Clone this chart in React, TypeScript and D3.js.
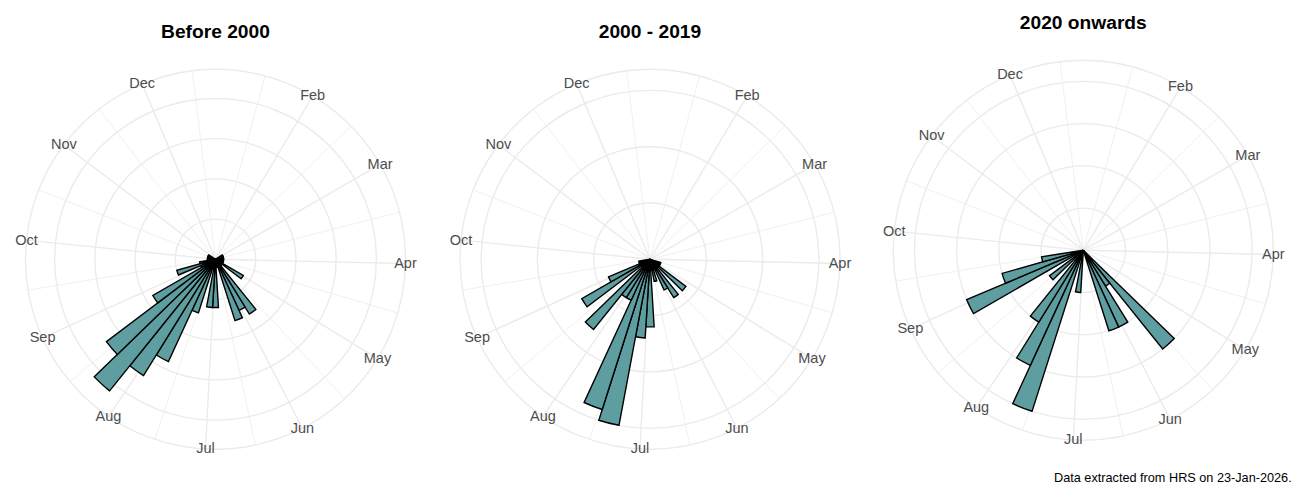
import React from "react";
import * as d3 from "d3";

// ---------- data ----------
const monthLabels = ["Jan", "Feb", "Mar", "Apr", "May", "Jun", "Jul", "Aug", "Sep", "Oct", "Nov", "Dec"];
// day of year (0 = 1 Jan, leap-year calendar) on which each month starts; last entry = next 1 Jan
const monthStartDay = [0, 31, 60, 91, 121, 152, 182, 213, 244, 274, 305, 335, 366];

const weeks = [
  1, 2, 3, 4, 5, 6, 7, 8, 9, 10, 11, 12, 13, 14, 15, 16, 17, 18, 19, 20, 21, 22, 23, 24, 25, 26,
  27, 28, 29, 30, 31, 32, 33, 34, 35, 36, 37, 38, 39, 40, 41, 42, 43, 44, 45, 46, 47, 48, 49, 50, 51,
];

const countsBefore2000 = [
  0, 0, 0, 0, 0, 0, 0, 0, 1, 1, 1, 1, 1, 1, 1, 1, 1, 4, 1, 1, 8, 7, 8, 1, 1, 6,
  6, 1, 7, 14, 17, 21, 17, 9, 2, 5, 2, 1, 1, 1, 1, 1, 1, 0, 0, 0, 0, 0, 0, 0, 0,
];
const counts2000to2019 = [
  0, 0, 0, 0, 0, 0, 0, 0, 0, 0, 0, 0, 0, 0, 0, 1, 1, 1, 4, 1, 4, 3, 1, 2, 1, 6,
  7, 15, 14, 4, 4, 8, 1, 7, 4, 1, 1, 0, 0, 0, 0, 0, 0, 0, 0, 0, 0, 0, 0, 0, 0,
];
const counts2020on = [
  0, 0, 0, 0, 0, 0, 0, 0, 0, 0, 0, 0, 0, 0, 0, 0, 0, 0, 0, 3, 1, 2, 2, 0, 0, 0,
  1, 0, 4, 3, 2, 0, 1, 0, 3, 2, 1, 0, 0, 0, 0, 0, 0, 0, 0, 0, 0, 0, 0, 0, 0,
];

const panelTitles = ["Before 2000", "2000 - 2019", "2020 onwards"];
const panelCounts = [countsBefore2000, counts2000to2019, counts2020on];
const radialTickCounts = [4, 3, 4];

const footnote = "Data extracted from HRS on 23-Jan-2026.";

// ---------- layout ----------
const W = 1300;
const H = 500;
const R_OUTER = 190; // radius of outer circle (0.45 of panel)
const panelCX = [215.5, 650, 1083.3];
const panelCY = [259.3, 259.3, 250.3];
const titleBaseline = [38.3, 38.3, 29.3];
const LABEL_DY = -0.6;
const FONT = "'Liberation Sans', Arial, Helvetica, sans-serif";

// theta domain in days (week bins of 7 days starting at FIRST_BIN_START)
const FIRST_BIN_START = 0.5;
const BIN_DAYS = 7;
const thetaDomain: [number, number] = [FIRST_BIN_START, FIRST_BIN_START + BIN_DAYS * weeks.length];

function Panel({ idx }: { idx: number }) {
  const cx = panelCX[idx];
  const cy = panelCY[idx];
  const counts = panelCounts[idx];
  const S = R_OUTER / 0.45;

  const theta = d3.scaleLinear().domain(thetaDomain).range([0, 2 * Math.PI]);
  const rMax = d3.max(counts) as number;
  const r = d3.scaleLinear().domain([0, rMax]).range([0, 0.4 * S]);

  const inDomain = (v: number) => v >= thetaDomain[0] && v <= thetaDomain[1];

  const majors = monthStartDay
    .slice(0, 12)
    .map((p, i) => ({ p, label: monthLabels[i] }))
    .filter((d) => inDomain(d.p));
  const minors = monthStartDay
    .slice(0, -1)
    .map((p, i) => (p + monthStartDay[i + 1]) / 2)
    .filter(inDomain);

  const rBreaks = r.ticks(radialTickCounts[idx]).filter((v) => v > 0);
  const circles = [...rBreaks.map((v) => r(v)), 0.45 * S];

  const arc = d3.arc<any>();
  const bars = weeks
    .map((w, i) => ({ w, c: counts[i] }))
    .filter((d) => d.c > 0)
    .map((d) => ({
      key: d.w,
      path: arc({
        innerRadius: 0,
        outerRadius: r(d.c),
        startAngle: theta(FIRST_BIN_START + BIN_DAYS * (d.w - 1)),
        endAngle: theta(FIRST_BIN_START + BIN_DAYS * d.w),
      }) as string,
    }));

  const R45 = 0.45 * S;
  const grid = "#EBEBEB";

  return (
    <g>
      <text
        x={cx}
        y={titleBaseline[idx]}
        textAnchor="middle"
        fontFamily={FONT}
        fontWeight="bold"
        fontSize={19.2}
        fill="#000"
      >
        {panelTitles[idx]}
      </text>
      <g transform={`translate(${cx},${cy})`}>
        {majors.map((d) => {
          const a = theta(d.p);
          return (
            <line
              key={"M" + d.label}
              x1={0}
              y1={0}
              x2={R45 * Math.sin(a)}
              y2={-R45 * Math.cos(a)}
              stroke={grid}
              strokeWidth={1.4}
            />
          );
        })}
        {minors.map((p, i) => {
          const a = theta(p);
          return (
            <line
              key={"m" + i}
              x1={0}
              y1={0}
              x2={R45 * Math.sin(a)}
              y2={-R45 * Math.cos(a)}
              stroke={grid}
              strokeWidth={0.75}
            />
          );
        })}
        {circles.map((rad, i) => (
          <circle key={"c" + i} r={rad} fill="none" stroke={grid} strokeWidth={1.4} />
        ))}
        {bars.map((b) => (
          <path key={b.key} d={b.path} fill="#5F9EA0" stroke="#000" strokeWidth={1.4} />
        ))}
        {majors.map((d) => {
          const a = theta(d.p);
          return (
            <text
              key={"t" + d.label}
              x={R45 * Math.sin(a)}
              y={-R45 * Math.cos(a) + LABEL_DY}
              textAnchor="middle"
              dominantBaseline="central"
              fontFamily={FONT}
              fontSize={14.5}
              fill="#4D4D4D"
            >
              {d.label}
            </text>
          );
        })}
      </g>
    </g>
  );
}

export default function App() {
  return (
    <svg
      width={W}
      height={H}
      viewBox={`0 0 ${W} ${H}`}
      style={{ position: "absolute", left: 0, top: 0, background: "#fff" }}
    >
      <rect width={W} height={H} fill="#fff" />
      {[0, 1, 2].map((i) => (
        <Panel key={i} idx={i} />
      ))}
      <text x={1291.7} y={481.7} textAnchor="end" fontFamily={FONT} fontSize={12.7} fill="#000">
        {footnote}
      </text>
    </svg>
  );
}
